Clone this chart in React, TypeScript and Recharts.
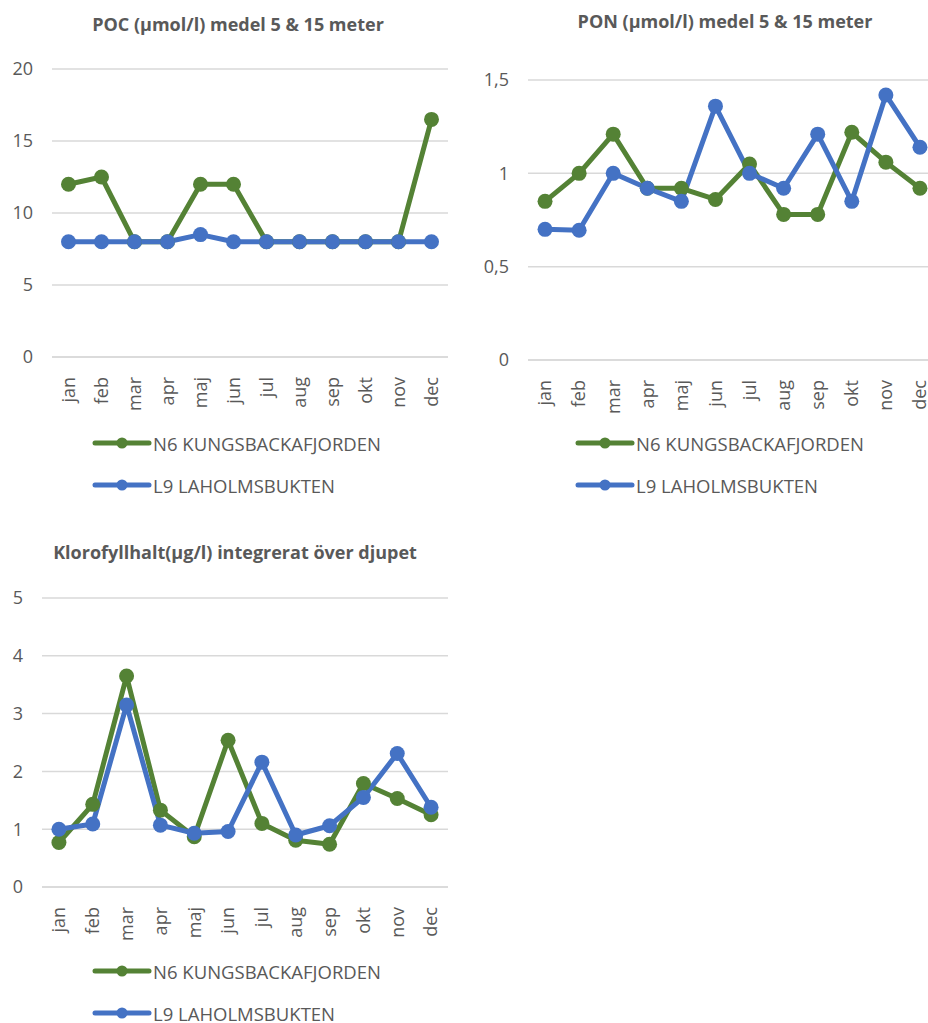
import { CartesianGrid, Line, LineChart, XAxis, YAxis } from 'recharts';

const months = ['jan', 'feb', 'mar', 'apr', 'maj', 'jun', 'jul', 'aug', 'sep', 'okt', 'nov', 'dec'];

// POC (µmol/l)
const pocN6 = [12, 12.5, 8, 8, 12, 12, 8, 8, 8, 8, 8, 16.5];
const pocL9 = [8, 8, 8, 8, 8.5, 8, 8, 8, 8, 8, 8, 8];
const pocTicks = [0, 5, 10, 15, 20];

// PON (µmol/l)
const ponN6 = [0.85, 1.0, 1.21, 0.92, 0.92, 0.86, 1.05, 0.78, 0.78, 1.22, 1.06, 0.92];
const ponL9 = [0.7, 0.695, 1.0, 0.92, 0.85, 1.36, 1.0, 0.92, 1.21, 0.85, 1.42, 1.14];
const ponTicks = [0, 0.5, 1, 1.5];

// Klorofyll (µg/l)
const chlN6 = [0.77, 1.43, 3.65, 1.33, 0.87, 2.54, 1.1, 0.81, 0.74, 1.79, 1.53, 1.25];
const chlL9 = [1.0, 1.09, 3.15, 1.07, 0.93, 0.96, 2.16, 0.9, 1.06, 1.55, 2.31, 1.38];
const chlTicks = [0, 1, 2, 3, 4, 5];

const seriesNames = ['N6 KUNGSBACKAFJORDEN', 'L9 LAHOLMSBUKTEN'];

const GREEN = '#548235';
const BLUE = '#4472C4';
const GRID = '#D9D9D9';
const TEXT = '#595959';
const FONT = '"Open Sans", sans-serif';
const FS = 18;

const toRows = (a: number[], b: number[]) =>
  months.map((m, i) => ({ month: m, n6: a[i], l9: b[i] }));

const commaFmt = (v: number) => String(v).replace('.', ',');

function MonthTick(props: any) {
  const { x, y, payload } = props;
  return (
    <text
      x={0}
      y={0}
      transform={`translate(${x},${y + 12}) rotate(-90)`}
      textAnchor="end"
      dy="0.35em"
      fill={TEXT}
      fontSize={FS}
      fontFamily={FONT}
    >
      {payload.value}
    </text>
  );
}

function LegendBlock({ left, top }: { left: number; top: number }) {
  const colors = [GREEN, BLUE];
  return (
    <div style={{ position: 'absolute', left, top }}>
      {seriesNames.map((name, i) => (
        <div key={name} style={{ display: 'flex', alignItems: 'center', height: 42 }}>
          <svg width={60} height={14}>
            <line x1={3} y1={7} x2={57} y2={7} stroke={colors[i]} strokeWidth={5} strokeLinecap="round" />
            <circle cx={30} cy={7} r={5.5} fill={colors[i]} />
          </svg>
          <span style={{ marginLeft: 1, fontSize: 18.5, color: TEXT, fontFamily: FONT }}>{name}</span>
        </div>
      ))}
    </div>
  );
}

interface PanelProps {
  title: string;
  titleCenter: number;
  titleTop: number;
  left: number;
  top: number;
  width: number;
  height: number;
  marginTop: number;
  yWidth: number;
  rows: { month: string; n6: number; l9: number }[];
  ticks: number[];
  fmt?: (v: number) => string;
}

function Panel(p: PanelProps) {
  // half a category band on each side so points sit in the middle of their month
  const half = (p.width - 1 - p.yWidth) / months.length / 2;
  return (
    <>
      <div
        style={{
          position: 'absolute',
          left: p.titleCenter - 250,
          width: 500,
          top: p.titleTop,
          textAlign: 'center',
          fontWeight: 700,
          fontSize: 18,
          color: TEXT,
          fontFamily: FONT,
        }}
      >
        {p.title}
      </div>
      <div style={{ position: 'absolute', left: p.left, top: p.top }}>
        <LineChart
          width={p.width}
          height={p.height}
          data={p.rows}
          margin={{ top: p.marginTop, right: 1, left: 0, bottom: 0 }}
        >
          <CartesianGrid vertical={false} stroke={GRID} strokeWidth={1.5} />
          <XAxis
            dataKey="month"
            interval={0}
            height={60}
            padding={{ left: half, right: half }}
            tick={<MonthTick />}
            tickLine={false}
            axisLine={{ stroke: GRID, strokeWidth: 1.5 }}
          />
          <YAxis
            width={p.yWidth}
            domain={[p.ticks[0], p.ticks[p.ticks.length - 1]]}
            ticks={p.ticks}
            tickFormatter={p.fmt}
            axisLine={false}
            tickLine={false}
            tickSize={0}
            tickMargin={19}
            tick={{ fill: TEXT, fontSize: FS, fontFamily: FONT }}
          />
          <Line
            dataKey="n6"
            name={seriesNames[0]}
            stroke={GREEN}
            strokeWidth={5}
            strokeLinejoin="round"
            dot={{ r: 7.5, fill: GREEN, stroke: GREEN, strokeWidth: 0 }}
            isAnimationActive={false}
          />
          <Line
            dataKey="l9"
            name={seriesNames[1]}
            stroke={BLUE}
            strokeWidth={5}
            strokeLinejoin="round"
            dot={{ r: 7.5, fill: BLUE, stroke: BLUE, strokeWidth: 0 }}
            isAnimationActive={false}
          />
        </LineChart>
      </div>
    </>
  );
}

export default function App() {
  return (
    <div
      style={{
        position: 'absolute',
        left: 0,
        top: 0,
        width: 928,
        height: 1023,
        overflow: 'hidden',
        background: '#fff',
      }}
    >
      <Panel
        title="POC (µmol/l) medel 5 & 15 meter"
        titleCenter={238}
        titleTop={12}
        left={0}
        top={0}
        width={449}
        height={417}
        marginTop={69}
        yWidth={52}
        rows={toRows(pocN6, pocL9)}
        ticks={pocTicks}
      />
      <LegendBlock left={92} top={422} />

      <Panel
        title="PON (µmol/l) medel 5 & 15 meter"
        titleCenter={725}
        titleTop={9}
        left={460}
        top={0}
        width={478}
        height={420}
        marginTop={80}
        yWidth={68}
        rows={toRows(ponN6, ponL9)}
        ticks={ponTicks}
        fmt={commaFmt}
      />
      <LegendBlock left={575} top={422} />

      <Panel
        title="Klorofyllhalt(µg/l) integrerat över djupet"
        titleCenter={235}
        titleTop={540}
        left={0}
        top={530}
        width={449}
        height={417}
        marginTop={68}
        yWidth={42}
        rows={toRows(chlN6, chlL9)}
        ticks={chlTicks}
      />
      <LegendBlock left={92} top={950} />
    </div>
  );
}
